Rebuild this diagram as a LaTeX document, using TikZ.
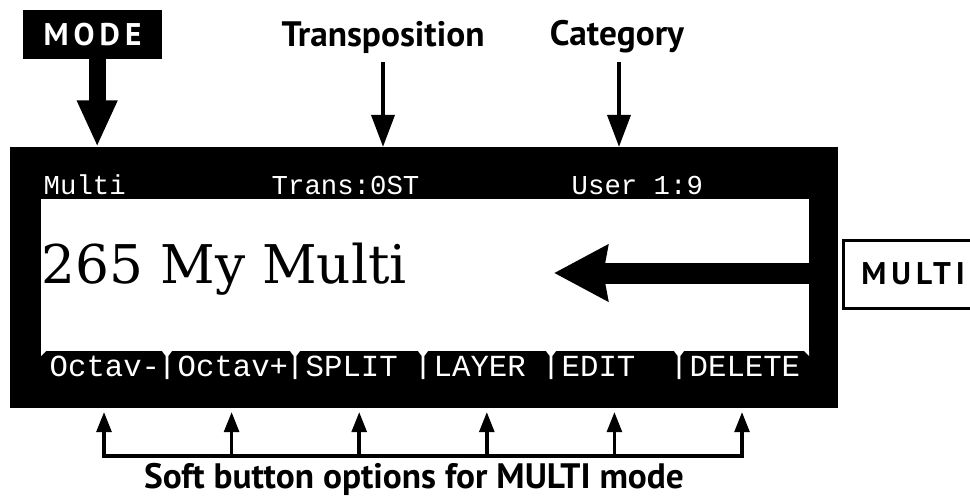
\documentclass[tikz,border=0pt]{standalone}
\usepackage{fontspec}
\setsansfont{PT Sans}
\newfontfamily\lcdfont{Liberation Mono}
\newfontfamily\titlefont{DejaVu Serif}
\newfontfamily\keyfont[LetterSpace=16]{PT Sans}
\usetikzlibrary{arrows.meta, positioning, calc}

\begin{document}
\begin{tikzpicture}[x=0.75pt, y=-0.75pt, line width=2.6pt,
    tag/.style={font=\sffamily\bfseries\fontsize{26.5}{30}\selectfont, inner sep=0pt, anchor=base},
    keybox/.style={font=\keyfont\bfseries\fontsize{23.5}{26}\selectfont, inner sep=0pt, outer sep=0pt},
    lcdtop/.style={text=white, font=\lcdfont\fontsize{20.5}{22}\selectfont, inner sep=0pt, anchor=base west},
    lcdsoft/.style={lcdtop, font=\lcdfont\fontsize{23}{25}\selectfont},
    pointer/.style={-{Triangle[width=17pt, length=24pt]}, line width=3.4pt},
    softarrow/.style={-{Triangle[width=11pt, length=15pt]}, line width=2.6pt}]
    \useasboundingbox (0,0) rectangle (970,499);

    % Display
    \node (lcd) [fill=black, inner sep=0pt, outer sep=0pt, minimum width=621pt, minimum height=195.75pt, anchor=north west] at (10,147) {};
    \node (screen) [fill=white, inner sep=0pt, outer sep=0pt, minimum width=576pt, minimum height=114pt, anchor=north west] at (41,199) {};
    \foreach \x in {167,295,423,551,679}
        \fill[white] (\x-5,351) -- (\x+5,351) -- (\x+1.3,356) -- (\x+1.3,379) -- (\x-1.3,379) -- (\x-1.3,356) -- cycle;
    \fill[white] (41,351) -- (46,351) -- (41,356) -- cycle;
    \fill[white] (809,351) -- (804,351) -- (809,356) -- cycle;

    % Display texts
    \node (modeval) [lcdtop] at (42,195) {Multi};
    \node (transval) [lcdtop] at (270,195) {Trans:0ST};
    \node (catval) [lcdtop] at (570,195) {User 1:9};
    \node (name) [anchor=base west, inner sep=0pt, font=\titlefont\fontsize{40}{44}\selectfont] at (40,283) {265 My Multi};
    \foreach \txt [count=\i] in {Octav-, Octav+, SPLIT, LAYER, EDIT, DELETE}
        \node (key\i) [lcdsoft] at (48+128*\i-128,376) {\txt};

    % Labels
    \node (mode) [keybox, fill=black, text=white, minimum width=104.25pt, minimum height=36.75pt] at (92.5,34.5) {MODE};
    \node (trans) [tag] at (383,47) {Transposition};
    \node (cat) [tag] at (617,46) {Category};
    \node (multi) [keybox, draw, line width=2.25pt, minimum width=105pt, minimum height=51pt, anchor=west] at (843,274) {MULTI};
    \node (caption) [tag] at (414,488) {Soft button options for MULTI mode};

    % Pointers into the display
    \draw[-{Triangle[width=28pt, length=35pt]}, line width=12.75pt] ([xshift=3.5pt]mode.south) -- ([xshift=3.5pt]mode.south |- lcd.north);
    \draw[pointer] (trans.base) ++(0,15) -- (trans |- lcd.north);
    \draw[pointer] (cat.base) ++(2,16) -- ([xshift=1.5pt]cat |- lcd.north);
    \coordinate (multitip) at (554,273);
    \draw[-{Stealth[width=41pt, length=40pt, inset=3pt]}, line width=15.75pt] (multitip -| screen.east) -- (multitip);

    % Soft buttons
    \foreach \i in {1,...,6}
        \coordinate (btn\i) at (104+127.6*\i-127.6,456);
    \draw[line cap=rect] (btn1) -- (btn6);
    \foreach \i in {1,...,6}
        \draw[softarrow, shorten >=3pt] (btn\i) -- (btn\i |- lcd.south);
\end{tikzpicture}
\end{document}
